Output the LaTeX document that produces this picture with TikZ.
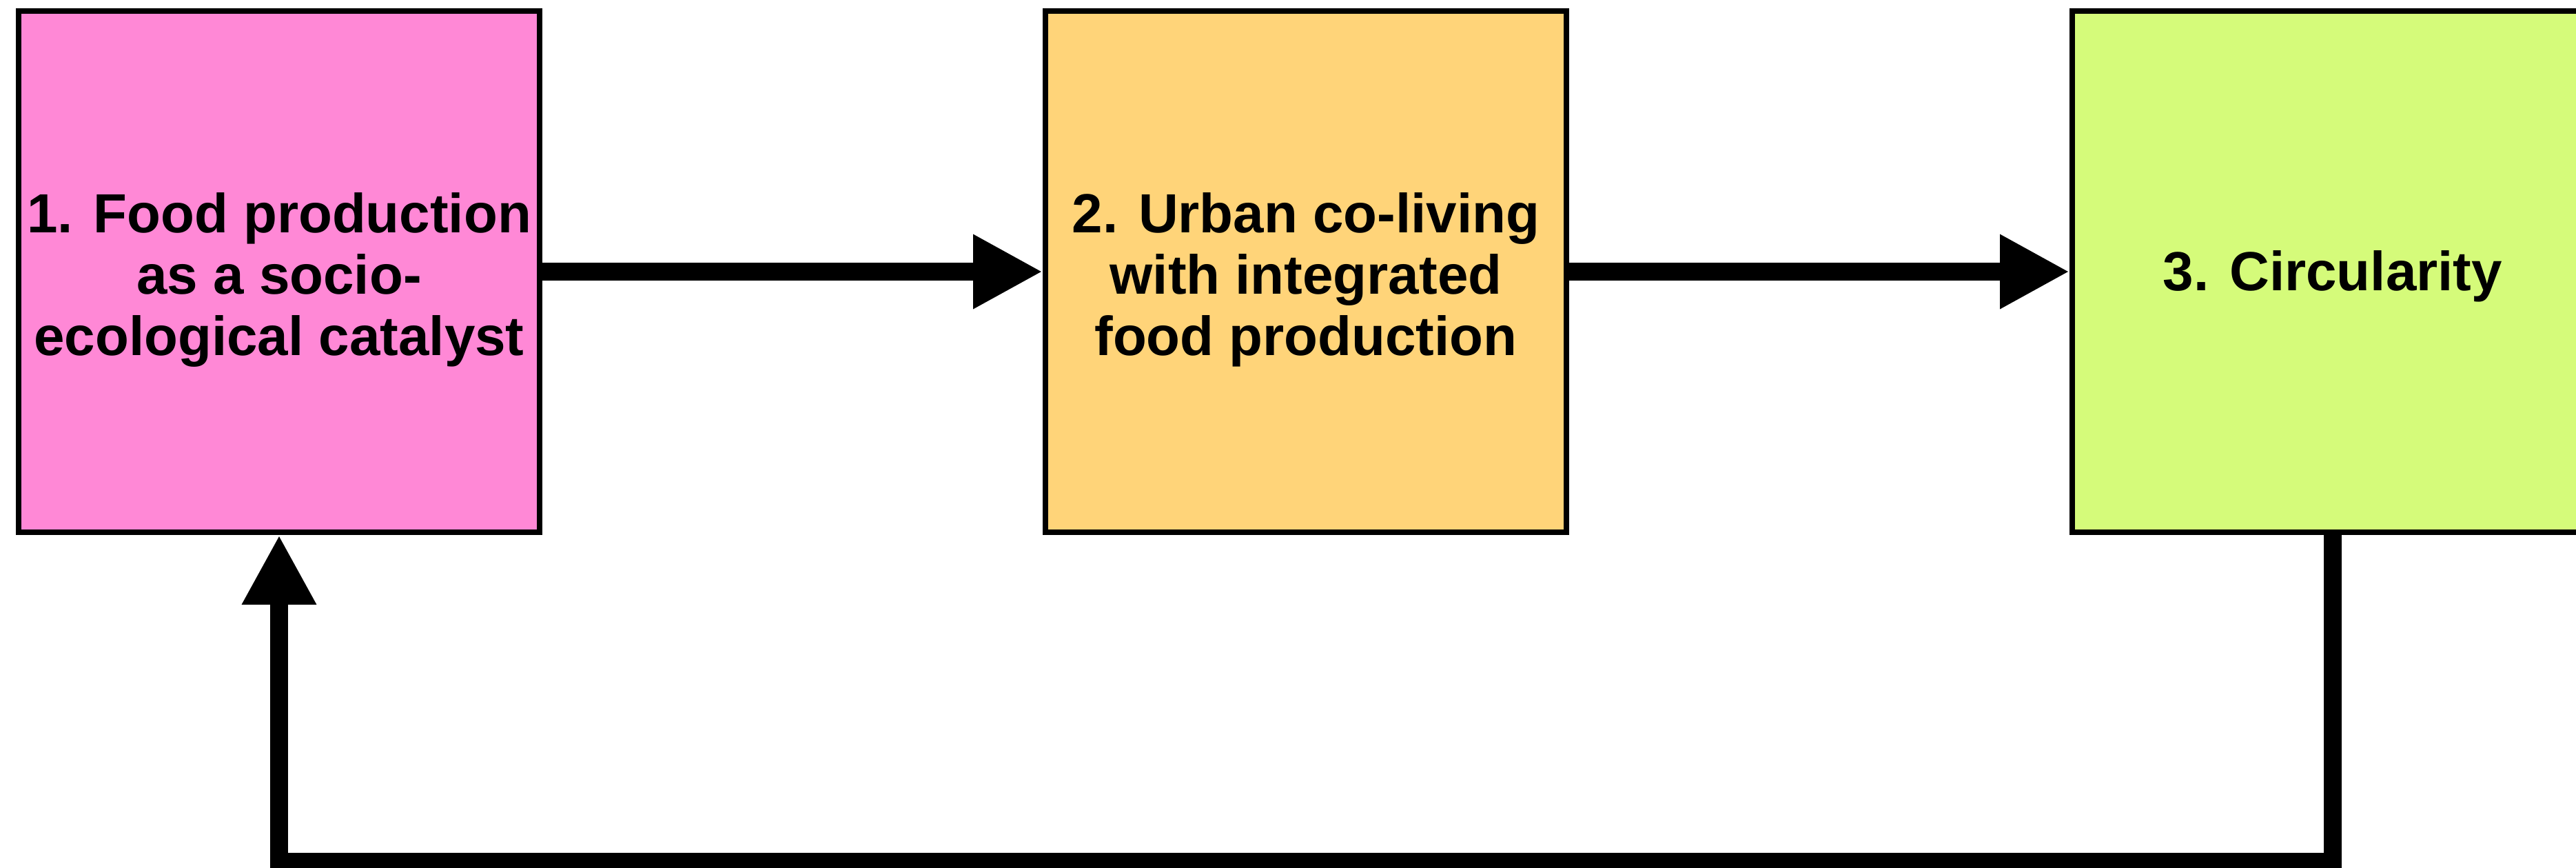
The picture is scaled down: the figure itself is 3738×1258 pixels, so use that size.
\documentclass[tikz,border=0pt]{standalone}
\usepackage{fontspec}
\setmainfont{Liberation Sans}
\usetikzlibrary{arrows.meta}
\definecolor{stepPink}{HTML}{FF88D6}
\definecolor{stepOrange}{HTML}{FFD479}
\definecolor{stepGreen}{HTML}{D5FB7A}
\newcommand{\padtop}[1]{\rule{0pt}{#1}}
\begin{document}
\begin{tikzpicture}[x=0.2pt,y=0.2pt,yscale=-1,
  stage/.style={draw=black, line width=1.6pt, minimum width=151.2pt, minimum height=151.2pt,
    inner sep=0pt, align=center, font=\fontsize{16}{17.8}\selectfont\bfseries},
  flow/.style={draw=black, line width=5.2pt, -{Triangle[length=20.2pt,width=20.2pt]}}]
\useasboundingbox (0,0) rectangle (3738,1258);
\node[stage, fill=stepPink] (food) at (405,394) {\padtop{16.5pt}1. Food production\\as a socio-\\ecological catalyst};
\node[stage, fill=stepOrange] (coliving) at (1895,394) {\padtop{16.5pt}2. Urban co-living\\with integrated\\food production};
\node[stage, fill=stepGreen] (circ) at (3385,394) {\padtop{14.5pt}3. Circularity};
\coordinate (back) at (405,1250);
\draw[flow] (food) -- (coliving);
\draw[flow] (coliving) -- (circ);
\draw[flow] (circ.south) |- (back) -- (food.south);
\end{tikzpicture}
\end{document}
